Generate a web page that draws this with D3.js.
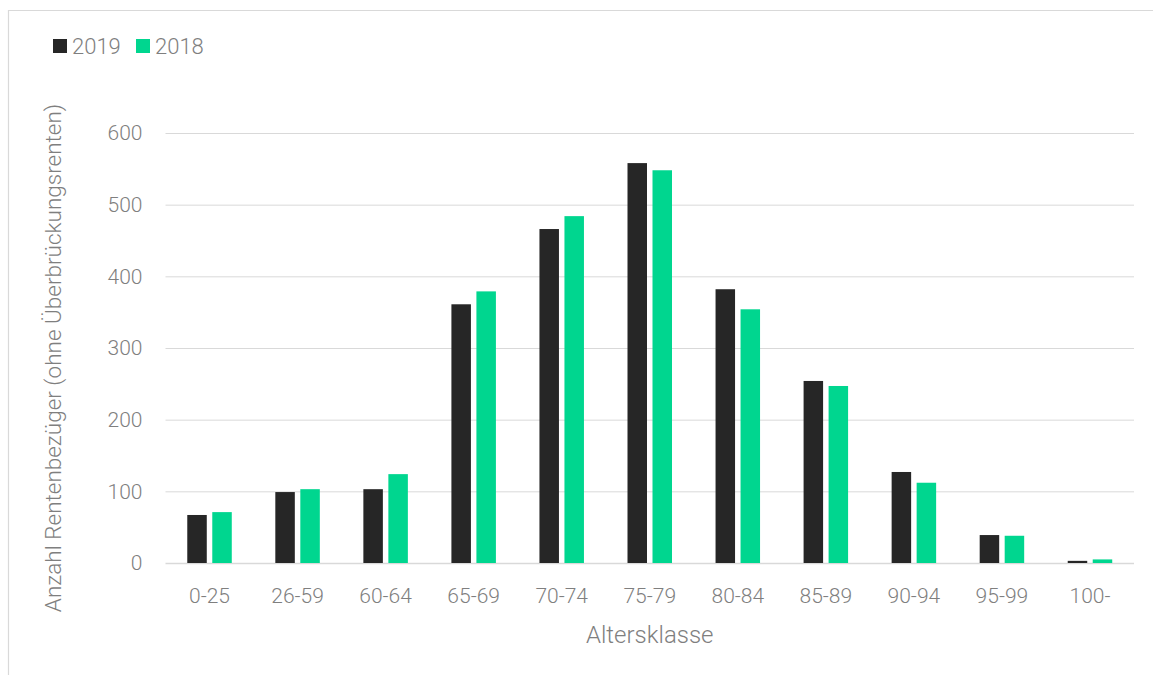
<!DOCTYPE html>
<html>
<head>
<meta charset="utf-8">
<script src="https://cdn.jsdelivr.net/npm/d3@7"></script>
<style>
  html, body { margin: 0; padding: 0; background: #fff; }
  svg { display: block; font-family: Roboto, "Open Sans", sans-serif; font-weight: 300; }
</style>
</head>
<body>
<div id="chart"></div>
<script>
const CATEGORIES = ["0-25", "26-59", "60-64", "65-69", "70-74", "75-79", "80-84", "85-89", "90-94", "95-99", "100-"];
const VALUES_2019 = [67, 99, 103, 361, 466, 558, 382, 254, 127, 39, 3];
const VALUES_2018 = [71, 103, 124, 379, 484, 548, 354, 247, 112, 38, 5];
const Y_TICKS = [0, 100, 200, 300, 400, 500, 600];

const SERIES = [
  { key: "2019", label: "2019", color: "#262626", values: VALUES_2019 },
  { key: "2018", label: "2018", color: "#00d68f", values: VALUES_2018 },
];

const width = 1153;
const height = 675;
const margin = { top: 133, right: 19, bottom: 112, left: 165.5 };
const innerWidth = width - margin.left - margin.right;
const innerHeight = height - margin.top - margin.bottom;
const textColor = "#7f7f7f";

const svg = d3
  .select("#chart")
  .append("svg")
  .attr("width", width)
  .attr("height", height);

// outer frame (runs past the right and bottom edges, as in the source)
svg
  .append("path")
  .attr("d", `M8.5,${height} V10.5 H${width}`)
  .attr("fill", "none")
  .attr("stroke", "#d9d9d9")
  .attr("stroke-width", 1.2);

const chart = svg
  .append("g")
  .attr("transform", `translate(${margin.left},${margin.top})`);

const xScale = d3
  .scaleBand()
  .domain(CATEGORIES)
  .range([0, innerWidth])
  .paddingInner(0)
  .paddingOuter(0);

const barWidth = 19.5;
const barGap = 5.5;

const yScale = d3.scaleLinear().domain([0, 600]).range([innerHeight, 0]);

// gridlines
chart
  .append("g")
  .selectAll("line")
  .data(Y_TICKS)
  .join("line")
  .attr("x1", 0)
  .attr("x2", innerWidth)
  .attr("y1", (d) => yScale(d) + 0.5)
  .attr("y2", (d) => yScale(d) + 0.5)
  .attr("stroke", "#d9d9d9")
  .attr("stroke-width", (d) => (d === 0 ? 1.5 : 1));

// y tick labels
const yAxis = chart
  .append("g")
  .call(d3.axisLeft(yScale).tickValues(Y_TICKS).tickSize(0).tickPadding(23));
yAxis.select(".domain").remove();
yAxis
  .selectAll("text")
  .attr("fill", textColor)
  .attr("font-size", 21)
  .attr("font-family", "Roboto, sans-serif")
  .attr("font-weight", 300);

// x tick labels
const xAxis = chart
  .append("g")
  .attr("transform", `translate(0,${innerHeight})`)
  .call(d3.axisBottom(xScale).tickSize(0).tickPadding(25));
xAxis.select(".domain").remove();
xAxis
  .selectAll("text")
  .attr("fill", textColor)
  .attr("font-size", 21)
  .attr("font-family", "Roboto, sans-serif")
  .attr("font-weight", 300);

// bars
SERIES.forEach((series, si) => {
  chart
    .append("g")
    .selectAll("rect")
    .data(CATEGORIES.map((c, i) => ({ c, v: series.values[i] })))
    .join("rect")
    .attr("x", (d) => {
      const center = xScale(d.c) + xScale.bandwidth() / 2;
      return si === 0 ? center - barGap / 2 - barWidth : center + barGap / 2;
    })
    .attr("y", (d) => yScale(d.v))
    .attr("width", barWidth)
    .attr("height", (d) => yScale(0) - yScale(d.v))
    .attr("fill", series.color);
});

// axis titles
svg
  .append("text")
  .attr("x", margin.left + innerWidth / 2)
  .attr("y", 643)
  .attr("text-anchor", "middle")
  .attr("font-size", 24)
  .attr("fill", textColor)
  .text("Altersklasse");

svg
  .append("text")
  .attr("transform", "rotate(-90)")
  .attr("x", -358)
  .attr("y", 61)
  .attr("text-anchor", "middle")
  .attr("font-size", 22.5)
  .attr("fill", textColor)
  .text("Anzahl Rentenbezüger (ohne Überbrückungsrenten)");

// legend
const legend = svg.append("g").attr("transform", "translate(53,39)");
const legendOffsets = [0, 83];
SERIES.forEach((series, i) => {
  const row = legend.append("g").attr("transform", `translate(${legendOffsets[i]},0)`);
  row
    .append("rect")
    .attr("width", 14)
    .attr("height", 14)
    .attr("fill", series.color);
  row
    .append("text")
    .attr("x", 19)
    .attr("y", 15)
    .attr("font-size", 22)
    .attr("fill", textColor)
    .text(series.label);
});
</script>
</body>
</html>
